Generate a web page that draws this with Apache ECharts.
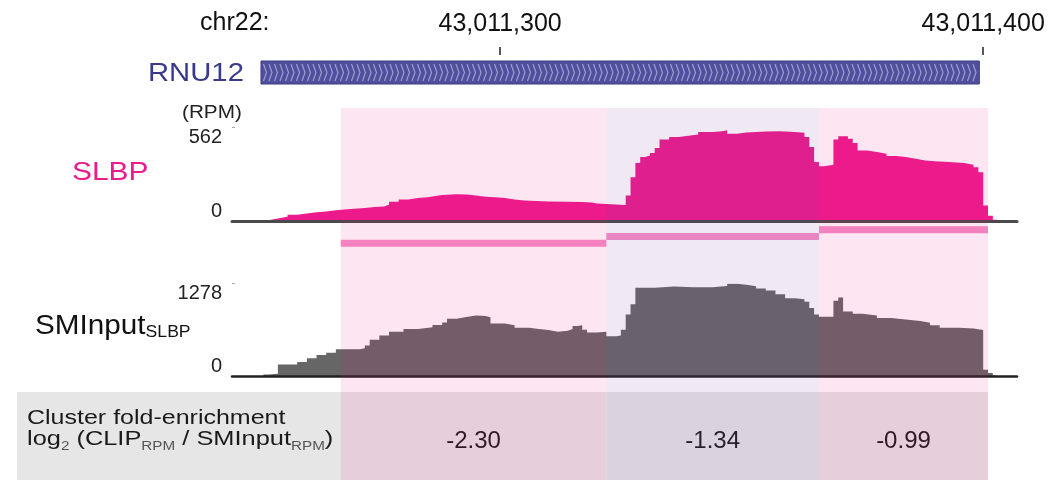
<!DOCTYPE html>
<html>
<head>
<meta charset="utf-8">
<script src="https://cdn.jsdelivr.net/npm/echarts@6/dist/echarts.min.js"></script>
<style>
  html, body { margin: 0; padding: 0; background: #fff; }
  #chart { width: 1058px; height: 480px; }
</style>
</head>
<body>
<div id="chart"></div>
<script>
// chr22 window around RNU12; positions are offsets (bp) from 43,011,300
const ORIGIN = 43011300;
const viewStart = -55.5;
const viewEnd = 107;
const rulerTicks = [43011300, 43011400];
const geneName = 'RNU12';
const geneSpan = [-49.5, 99.2];

// SLBP CLIP coverage (RPM): each value holds from its position to the next one
const slbpPos = [-49,-48,-46,-44,-42,-40,-38,-36,-34,-31,-28,-26,-24,-23,-21,-19,-17,-15,-14,-12,
  -9,-7,-5,-3,-1,1,3,5,10,14,17,19,20,26,27,28,29,30,31,32,33,35,37,39,41,44,46,47,49,51,
  55,58,61,63,64,65,66,67,69,70,72,73,74,76,78,80,82,84,86,88,90,93,96,98,99,100,101,102,103];
const slbpRpm = [8,18,28,40,48,55,60,67,75,80,86,90,100,118,132,140,145,150,158,163,
  162,155,148,145,140,132,125,120,118,116,113,108,98,155,265,350,385,395,410,440,490,505,512,520,535,540,545,525,532,538,
  540,535,530,505,445,355,330,340,490,510,495,470,425,415,405,392,385,375,365,360,355,350,340,325,295,95,35,10,0];
const slbpMax = 562;

// size-matched input coverage (RPM)
const inputPos = [-49,-48,-46,-42,-40,-38,-36,-34,-29,-28,-27,-25,-23,-20,-17,-14,-12,-11,-9,-7,
  -5,-3,-2,1,3,6,8,10,12,14,15,16,17,18,20,22,24,25,26,27,28,32,36,40,44,47,49,51,53,55,
  57,59,61,63,64,65,66,69,70,71,73,75,78,81,84,87,89,91,95,98,100,101,102,103];
const inputRpm = [20,30,160,195,245,290,320,370,385,420,500,560,610,650,675,705,740,790,815,835,
  830,810,725,700,665,650,635,610,625,650,690,700,640,600,610,550,560,640,850,990,1220,1235,1225,1225,1245,1275,1260,1240,1210,1180,
  1130,1075,1060,1025,940,850,820,1040,1085,890,860,835,800,780,760,735,700,665,655,635,85,40,12,0];
const inputMax = 1278;

// CLIP clusters
const clusterStart = [-33, 22, 66];
const clusterEnd = [22, 66, 101];
const clusterRow = [0, 1, 2];
const clusterLog2 = ['-2.30', '-1.34', '-0.99'];

const FONT = '"Liberation Sans", Arial, Helvetica, sans-serif';
const bandTint = ['rgba(236,27,136,0.11)', 'rgba(130,72,155,0.12)', 'rgba(236,27,136,0.11)'];

const abs = p => ORIGIN + p;
const stepData = (pos, val) => pos.map((p, i) => [abs(p), val[i]]);
const clusters = clusterStart.map((s, i) => [abs(s), abs(clusterEnd[i]), clusterRow[i], i]);

const L = 232, R = 41;
const grids = [
  { left: L, right: R, top: 47, height: 8 },        // ruler
  { left: L, right: R, top: 61, height: 23 },       // gene
  { left: L, right: R, top: 127.5, height: 94 },    // SLBP
  { left: L, right: R, top: 226.5, height: 20 },    // clusters
  { left: L, right: R, top: 283.5, height: 92.5 },  // SMInput
  { left: L, right: R, top: 108, bottom: 0 },       // cluster bands
  { left: L, right: R, top: 392, bottom: 0 }        // enrichment row
];

function xAxisFor(i, extra) {
  return Object.assign({
    type: 'value', gridIndex: i, min: abs(viewStart), max: abs(viewEnd),
    show: false, splitLine: { show: false }
  }, extra || {});
}

const xAxes = grids.map((g, i) => xAxisFor(i));
xAxes[0] = xAxisFor(0, {
  show: true, position: 'top',
  axisLine: { show: false },
  axisTick: { show: true, inside: false, length: 8, customValues: rulerTicks,
    lineStyle: { color: '#222', width: 1.5 } },
  axisLabel: { show: true, customValues: rulerTicks, margin: 10, fontSize: 25, fontFamily: FONT, color: '#111',
    formatter: v => Math.round(v).toLocaleString('en-US') }
});
xAxes[2] = xAxisFor(2, {
  show: true, z: 3,
  axisLine: { show: true, lineStyle: { color: '#4a4a4a', width: 3 } },
  axisTick: { show: false }, axisLabel: { show: false }
});
xAxes[4] = xAxisFor(4, {
  show: true, z: 3,
  axisLine: { show: true, lineStyle: { color: '#222', width: 2.5 } },
  axisTick: { show: false }, axisLabel: { show: false }
});

function yHidden(i, max) {
  return { type: 'value', gridIndex: i, min: 0, max: max, show: false, splitLine: { show: false } };
}
function yScale(i, max) {
  return {
    type: 'value', gridIndex: i, min: 0, max: max, interval: max,
    axisLine: { show: false },
    axisTick: { show: true, inside: true, length: 3, lineStyle: { color: '#aaa' } },
    splitLine: { show: false },
    axisLabel: { margin: 10, fontSize: 20, fontFamily: FONT, color: '#222',
      formatter: v => String(v),
      verticalAlignMaxLabel: 'top', verticalAlignMinLabel: 'bottom' }
  };
}
const yAxes = [yHidden(0, 1), yHidden(1, 1), yScale(2, slbpMax), yHidden(3, 3),
  yScale(4, inputMax), yHidden(5, 1), yHidden(6, 1)];

const chart = echarts.init(document.getElementById('chart'), null, { renderer: 'canvas' });

chart.setOption({
  animation: false,
  backgroundColor: '#ffffff',
  grid: grids,
  xAxis: xAxes,
  yAxis: yAxes,
  series: [
    {
      // gene model with strand chevrons
      type: 'custom', xAxisIndex: 1, yAxisIndex: 1,
      data: [[abs(geneSpan[0]), abs(geneSpan[1])]],
      encode: { x: [0, 1] },
      renderItem(params, api) {
        const a = api.coord([api.value(0), 1]);
        const b = api.coord([api.value(1), 0]);
        const x0 = a[0], y0 = a[1], x1 = b[0], y1 = b[1];
        const mid = (y0 + y1) / 2;
        const children = [{
          type: 'rect', shape: { x: x0, y: y0, width: x1 - x0, height: y1 - y0 },
          style: { fill: '#4f4f9c', stroke: '#3a3a86', lineWidth: 1 }
        }];
        for (let cx = x0 + 4; cx < x1 - 3; cx += 5.5) {
          children.push({
            type: 'polyline',
            shape: { points: [[cx - 1.5, y0 + 3], [cx + 1.5, mid], [cx - 1.5, y1 - 3]] },
            style: { stroke: '#9d9dd3', lineWidth: 1.2, fill: null }
          });
        }
        return { type: 'group', children };
      }
    },
    {
      name: 'SLBP', type: 'line', xAxisIndex: 2, yAxisIndex: 2,
      step: 'end', symbol: 'none',
      lineStyle: { width: 0 },
      areaStyle: { color: '#ec1a8c', opacity: 1 },
      data: stepData(slbpPos, slbpRpm)
    },
    {
      // cluster extents
      type: 'custom', xAxisIndex: 3, yAxisIndex: 3,
      data: clusters,
      encode: { x: [0, 1], y: 2 },
      renderItem(params, api) {
        const a = api.coord([api.value(0), api.value(2) + 0.5]);
        const b = api.coord([api.value(1), api.value(2) + 0.5]);
        return { type: 'rect', shape: { x: a[0], y: a[1] - 3.5, width: b[0] - a[0], height: 7 },
          style: { fill: '#f58fc7' } };
      }
    },
    {
      name: 'SMInput', type: 'line', xAxisIndex: 4, yAxisIndex: 4,
      step: 'end', symbol: 'none',
      lineStyle: { width: 0 },
      areaStyle: { color: '#666666', opacity: 1 },
      data: stepData(inputPos, inputRpm)
    },
    {
      // enrichment row cells with values
      type: 'custom', xAxisIndex: 6, yAxisIndex: 6, z: 2,
      data: clusters,
      encode: { x: [0, 1] },
      renderItem(params, api) {
        const a = api.coord([api.value(0), 1]);
        const b = api.coord([api.value(1), 0]);
        const i = api.value(3);
        return {
          type: 'group',
          children: [
            { type: 'rect', shape: { x: a[0], y: a[1], width: b[0] - a[0], height: b[1] - a[1] },
              style: { fill: '#e6e6e6' } },
            { type: 'text', x: (a[0] + b[0]) / 2, y: 441, z2: 10,
              style: { text: clusterLog2[i], fontSize: 24, fontFamily: FONT, fill: '#1a1a1a',
                align: 'center', verticalAlign: 'middle', textAlign: 'center', textVerticalAlign: 'middle' } }
          ]
        };
      }
    },
    {
      // translucent cluster bands over all tracks
      type: 'custom', xAxisIndex: 5, yAxisIndex: 5, z: 5, silent: true,
      data: clusters,
      encode: { x: [0, 1] },
      renderItem(params, api) {
        const a = api.coord([api.value(0), 1]);
        const b = api.coord([api.value(1), 0]);
        return { type: 'rect', shape: { x: a[0], y: a[1], width: b[0] - a[0], height: b[1] - a[1] },
          style: { fill: bandTint[api.value(3)] } };
      }
    }
  ],
  graphic: [
    { type: 'text', x: 200, y: 23,
      style: { text: 'chr22:', fontSize: 25, fontFamily: FONT, fill: '#111',
        align: 'left', verticalAlign: 'middle', textAlign: 'left', textVerticalAlign: 'middle' } },
    { type: 'text', x: 148, y: 74, scaleX: 1.17,
      style: { text: geneName, fontSize: 25, fontFamily: FONT, fill: '#3a3a8c',
        align: 'left', verticalAlign: 'middle', textAlign: 'left', textVerticalAlign: 'middle' } },
    { type: 'text', x: 182, y: 113, scaleX: 1.15,
      style: { text: '(RPM)', fontSize: 18, fontFamily: FONT, fill: '#222',
        align: 'left', verticalAlign: 'middle', textAlign: 'left', textVerticalAlign: 'middle' } },
    { type: 'text', x: 72, y: 173, scaleX: 1.15,
      style: { text: 'SLBP', fontSize: 26, fontFamily: FONT, fill: '#ec1a8c',
        align: 'left', verticalAlign: 'middle', textAlign: 'left', textVerticalAlign: 'middle' } },
    { type: 'text', x: 35, y: 313, scaleX: 1.1,
      style: {
        text: '{m|SMInput}{s|SLBP}', align: 'left', verticalAlign: 'top', textAlign: 'left', textVerticalAlign: 'top',
        rich: {
          m: { fontSize: 27, lineHeight: 28, fontFamily: FONT, fill: '#111', color: '#111', verticalAlign: 'top' },
          s: { fontSize: 16, lineHeight: 16, fontFamily: FONT, fill: '#111', color: '#111', verticalAlign: 'bottom', padding: [22, 0, 0, 0] }
        }
      } },
    { type: 'rect', z: 1, shape: { x: 17, y: 392, width: 324, height: 88 }, style: { fill: '#e6e6e6' } },
    { type: 'text', z: 3, x: 27, y: 418, scaleX: 1.25,
      style: { text: 'Cluster fold-enrichment', fontSize: 20, fontFamily: FONT, fill: '#1a1a1a',
        align: 'left', verticalAlign: 'middle', textAlign: 'left', textVerticalAlign: 'middle' } },
    { type: 'text', z: 3, x: 27, y: 441, scaleX: 1.27,
      style: {
        text: '{m|log}{s|2}{m| (CLIP}{s|RPM}{m| / SMInput}{s|RPM}{m|)}',
        align: 'left', verticalAlign: 'middle', textAlign: 'left', textVerticalAlign: 'middle',
        rich: {
          m: { fontSize: 20, lineHeight: 24, fontFamily: FONT, fill: '#1a1a1a', color: '#1a1a1a', verticalAlign: 'top' },
          s: { fontSize: 12, lineHeight: 12, fontFamily: FONT, fill: '#555', color: '#555', verticalAlign: 'bottom' }
        }
      } }
  ]
});
</script>
</body>
</html>
